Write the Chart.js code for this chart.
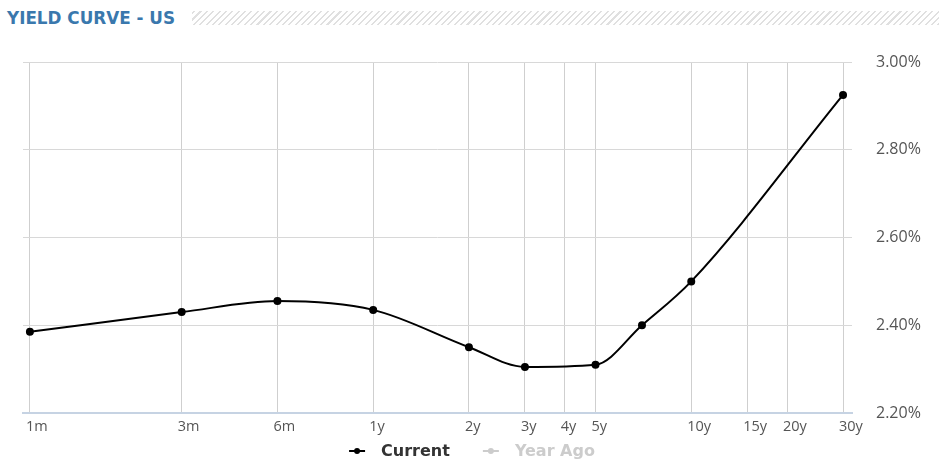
<!DOCTYPE html>
<html>
<head>
<meta charset="utf-8">
<script src="https://cdn.jsdelivr.net/npm/chart.js@4"></script>
<style>
  html, body { margin: 0; padding: 0; background: #fff; }
  .wrap { position: relative; width: 939px; height: 465px; }
  .title {
    position: absolute; left: 7px; top: 8px;
    font: bold 16.8px "DejaVu Sans", sans-serif; color: #3a78ad;
  }
  .hatch {
    position: absolute; left: 192px; top: 11px; width: 747px; height: 14px;
    background: repeating-linear-gradient(-45deg, #e0e0e0 0 1.5px, #fff 1.5px 4.5px);
  }
  canvas { position: absolute; left: 0; top: 0; }
</style>
</head>
<body>
<div class="wrap">
  <div class="title">YIELD CURVE - US</div>
  <div class="hatch"></div>
  <canvas id="myChart" width="939" height="465"></canvas>
</div>
<script>
// maturities in years, current yields (%)
const maturities = [1 / 12, 0.25, 0.5, 1, 2, 3, 5, 7, 10, 30];
const current = [2.385, 2.43, 2.455, 2.435, 2.35, 2.305, 2.31, 2.40, 2.50, 2.925];
const yearAgo = [];

// x grid / tick labels
const tickValues = [1 / 12, 0.25, 0.5, 1, 2, 3, 4, 5, 10, 15, 20, 30];
const tickLabels = ["1m", "3m", "6m", "1y", "2y", "3y", "4y", "5y", "10y", "15y", "20y", "30y"];

const seriesColors = ["#000", "#ccc"];
const legendText = ["#333", "#ccc"];

// legend drawn by hand (line + dot marker, gray "Year Ago")
const legendPlugin = {
  id: "bottomLegend",
  afterDraw(chart) {
    const ctx = chart.ctx;
    const y = 451;
    ctx.save();
    ctx.font = "bold 16px 'DejaVu Sans', sans-serif";
    ctx.textBaseline = "middle";
    const items = chart.data.datasets.map((ds, i) => ({
      text: ds.label,
      w: ctx.measureText(ds.label).width,
      i,
    }));
    const gap = 33;
    const total = items.reduce((s, it) => s + 32 + it.w, 0) + gap * (items.length - 1);
    let x = 472 - total / 2;
    items.forEach((it) => {
      ctx.strokeStyle = seriesColors[it.i];
      ctx.fillStyle = seriesColors[it.i];
      ctx.lineWidth = 2;
      ctx.beginPath();
      ctx.moveTo(x, y);
      ctx.lineTo(x + 16, y);
      ctx.stroke();
      ctx.beginPath();
      ctx.arc(x + 8, y, 3, 0, Math.PI * 2);
      ctx.fill();
      ctx.fillStyle = legendText[it.i];
      ctx.fillText(it.text, x + 32, y + 1);
      x += 32 + it.w + gap;
    });
    ctx.restore();
  },
};

const data = {
  datasets: [
    {
      label: "Current",
      data: maturities.map((m, i) => ({ x: m, y: current[i] })),
      borderColor: seriesColors[0],
      backgroundColor: seriesColors[0],
      borderWidth: 2,
      pointRadius: 3,
      cubicInterpolationMode: "monotone",
    },
    {
      label: "Year Ago",
      data: yearAgo,
      borderColor: seriesColors[1],
      backgroundColor: seriesColors[1],
    },
  ],
};

const config = {
  type: "line",
  data,
  plugins: [legendPlugin],
  options: {
    responsive: false,
    animation: false,
    layout: { padding: { left: 23, top: 62, right: 0, bottom: 28 } },
    scales: {
      x: {
        type: "logarithmic",
        min: (1 / 12) * Math.exp(-0.05),
        max: 30 * Math.exp(0.065),
        afterBuildTicks: (s) => {
          s.ticks = tickValues.map((v) => ({ value: v }));
        },
        afterFit: (s) => { s.height = 24; },
        grid: { color: "#cfcfcf", drawTicks: false },
        border: { color: "#c6d3e3", width: 2 },
        ticks: {
          autoSkip: false,
          maxRotation: 0,
          align: "start",
          labelOffset: -4,
          padding: 5,
          color: "#555",
          font: { family: "'Open Sans', sans-serif", size: 14.5 },
          callback: (v, i) => tickLabels[i],
        },
      },
      y: {
        position: "right",
        min: 2.2,
        max: 3.0,
        afterFit: (s) => { s.width = 87; },
        grid: { color: "#d8d8d8", drawTicks: false },
        border: { display: false },
        ticks: {
          stepSize: 0.2,
          padding: 24,
          color: "#555",
          font: { family: "'Open Sans', sans-serif", size: 16 },
          callback: (v) => v.toFixed(2) + "%",
        },
      },
    },
    plugins: {
      tooltip: { enabled: false },
      legend: { display: false },
    },
  },
};

const myChart = new Chart(document.getElementById("myChart"), config);
</script>
</body>
</html>
